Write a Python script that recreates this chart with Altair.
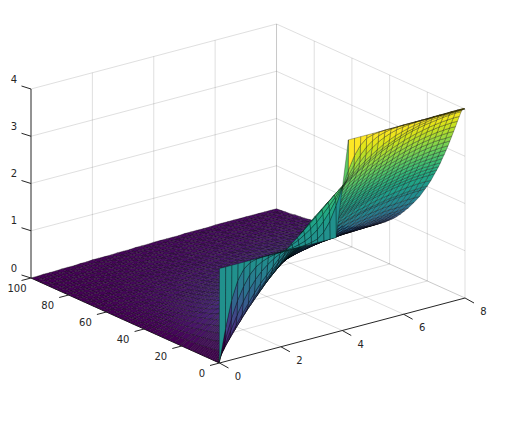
import altair as alt

# Axis ticks and surface heights (z, in hundredths)
x_ticks = [0, 2, 4, 6, 8]
y_ticks = [0, 20, 40, 60, 80, 100]
z_ticks = [0, 1, 2, 3, 4]
x_col = [i / 5 for i in range(41)]
y_row = [0, 0.1, 0.25, 0.5, 1, 1.5, 2, 3, 4, 5, 6, 7, 8, 9, 10, 11, 12, 13, 14, 15, 16, 18, 20, 21, 24, 27, 30, 32, 34, 36, 38, 40, 42, 44, 46, 48, 50, 52, 55, 57, 60, 62, 65, 67, 70, 72, 75, 77, 80, 82, 85, 87, 90, 92, 95, 97, 100]
z_table = [
 [200]*20 + [300] + [400]*20,
 [0,69,126,164,185,195,199,200,200,200,200,200,200,200,201,203,207,218,237,266,300,335,363,382,393,397,399] + [400]*14,
 [0,45,86,121,148,169,182,190,195,198,200,201,202,205,209,216,226,240,257,278,300,322,343,360,374,384,391,395,398,399,400] + [400]*10,
 [0,32,62,90,115,137,155,169,180,189,196,201,208,214,222,231,242,255,269,284,300,316,331,345,358,368,377,384,389,393,395,397,398,399,399,400,400,400,400,400,400],
 [0,23,46,68,88,107,126,143,157,171,185,196,208,219,230,241,252,264,276,288,299,311,322,333,343,352,360,368,374,380,384,388,391,393,395,397,398,398,399,399,399],
 [0,20,39,58,77,96,113,130,145,161,175,189,202,215,227,240,252,263,274,285,296,306,316,325,335,343,351,358,364,370,375,380,383,387,389,392,393,394,394,395,395],
 [0,18,36,54,71,89,105,122,138,153,169,183,196,209,223,235,247,258,270,281,291,301,310,320,328,336,343,351,357,363,368,373,377,380,383,385,387,389,390,391,391],
 [0,16,33,49,65,81,97,112,128,143,157,171,185,198,211,224,236,248,259,269,280,289,298,307,315,323,330,337,343,349,354,359,363,367,370,373,375,377,378,379,379],
 [0,15,31,46,61,76,91,106,120,135,149,162,176,189,201,213,225,237,248,258,268,277,287,295,303,311,318,325,331,337,342,347,351,355,358,361,363,365,366,367,367],
 [0,15,29,44,58,72,87,101,114,128,141,154,167,180,192,204,215,226,237,247,257,266,275,283,291,299,306,313,319,324,330,334,338,342,345,348,350,352,353,354,354],
 [0,14,28,42,55,69,83,96,109,122,135,147,160,172,183,195,206,216,227,237,246,255,264,272,280,287,294,301,307,312,317,322,326,330,333,336,338,340,341,342,342],
 [0,13,27,40,53,66,79,92,104,117,129,141,153,164,176,187,197,208,217,227,236,245,254,262,269,276,283,290,295,301,306,310,314,318,321,324,326,328,329,329,330],
 [0,13,25,38,51,63,76,88,100,112,124,135,146,158,168,179,189,199,209,218,227,235,244,251,259,266,272,279,284,290,294,299,303,306,309,312,314,316,317,318,318],
 [0,12,24,36,49,61,72,84,96,107,119,130,141,151,162,172,182,191,200,209,218,226,234,242,249,256,262,268,274,279,283,288,292,295,298,300,302,304,305,306,306],
 [0,12,23,35,47,58,70,81,92,103,114,125,135,145,155,165,175,184,193,201,210,218,225,232,239,246,252,258,263,268,273,277,281,284,287,289,291,293,294,295,295],
 [0,11,22,34,45,56,67,78,88,99,109,120,130,140,149,159,168,177,185,193,201,209,217,224,230,237,243,248,253,258,263,267,271,274,277,279,281,282,283,284,284],
 [0,11,21,32,43,53,64,74,85,95,105,115,124,134,143,152,161,169,178,186,194,201,208,215,221,228,233,239,244,249,253,257,260,263,266,268,270,272,273,273,274],
 [0,10,21,31,41,51,61,71,81,91,101,110,120,129,138,146,155,163,171,179,186,193,200,207,213,219,224,230,235,239,243,247,250,253,256,258,260,262,262,263,263],
 [0,10,20,30,40,49,59,69,78,88,97,106,115,124,132,141,149,157,164,172,179,186,193,199,205,211,216,221,226,230,234,238,241,244,246,248,250,252,253,253,253],
 [0,10,19,29,38,48,57,66,75,84,93,102,111,119,127,136,143,151,158,166,172,179,185,192,197,203,208,213,217,221,225,229,232,235,237,239,241,242,243,244,244],
 [0,9,18,28,37,46,55,64,72,81,90,98,107,115,123,130,138,145,152,159,166,172,178,184,190,195,200,205,209,213,217,220,223,226,228,230,232,233,234,234,235],
 [0,9,17,26,34,42,51,59,67,75,83,91,99,106,113,121,128,134,141,147,154,159,165,171,176,181,185,190,194,197,201,204,207,209,211,213,215,216,217,217,217],
 [0,8,16,24,31,39,47,55,62,70,77,84,91,98,105,112,118,125,131,137,142,148,153,158,163,167,171,175,179,183,186,189,191,194,196,197,199,200,200,201,201],
 [0,8,15,23,30,38,45,53,60,67,74,81,88,95,101,108,114,120,126,131,137,142,147,152,157,161,165,169,172,176,179,182,184,186,188,190,191,192,193,193,194],
 [0,7,14,20,27,34,40,47,53,60,66,72,78,84,90,96,101,107,112,117,122,127,131,135,139,143,147,150,154,157,159,162,164,166,168,169,170,171,172,172,172],
 [0,6,12,18,24,30,36,42,47,53,59,64,70,75,80,85,90,95,100,104,109,113,117,121,124,128,131,134,137,139,142,144,146,148,149,151,152,152,153,153,154],
 [0,5,11,16,21,27,32,37,42,47,52,57,62,67,71,76,80,85,89,93,97,100,104,107,111,114,117,119,122,124,126,128,130,132,133,134,135,136,136,137,137],
 [0,5,10,15,20,25,30,34,39,44,48,53,57,62,66,70,74,78,82,86,90,93,96,99,102,105,108,110,113,115,117,119,120,122,123,124,125,126,126,126,127],
 [0,5,9,14,18,23,27,32,36,41,45,49,53,57,61,65,69,73,76,80,83,86,89,92,95,97,100,102,104,106,108,110,111,113,114,115,116,116,117,117,117],
 [0,4,9,13,17,21,25,29,34,38,42,45,49,53,57,60,64,67,70,74,77,80,82,85,88,90,93,95,97,99,100,102,103,104,106,106,107,108,108,108,108],
 [0,4,8,12,16,20,23,27,31,35,38,42,46,49,53,56,59,62,65,68,71,74,76,79,81,84,86,88,90,91,93,94,96,97,98,99,99,100,100,100,100],
 [0,4,7,11,15,18,22,25,29,32,36,39,42,46,49,52,55,58,61,63,66,68,71,73,75,78,79,81,83,85,86,87,89,90,91,91,92,92,93,93,93],
 [0,3,7,10,13,17,20,23,27,30,33,36,39,42,45,48,51,53,56,58,61,63,65,68,70,72,73,75,77,78,80,81,82,83,84,84,85,86,86,86,86],
 [0,3,6,9,12,16,19,22,25,28,31,33,36,39,42,44,47,49,52,54,56,59,61,63,64,66,68,70,71,72,74,75,76,77,78,78,79,79,80,80,80],
 [0,3,6,9,12,14,17,20,23,26,28,31,34,36,39,41,43,46,48,50,52,54,56,58,60,61,63,64,66,67,68,69,70,71,72,72,73,73,74,74,74],
 [0,3,5,8,11,13,16,19,21,24,26,29,31,33,36,38,40,42,44,46,48,50,52,54,55,57,58,60,61,62,63,64,65,66,67,67,68,68,68,68,68],
 [0,2,5,7,10,12,15,17,20,22,24,26,29,31,33,35,37,39,41,43,45,46,48,50,51,53,54,55,56,57,58,59,60,61,61,62,62,63,63,63,63],
 [0,2,5,7,9,11,14,16,18,20,22,24,27,29,31,32,34,36,38,40,41,43,44,46,47,49,50,51,52,53,54,55,56,56,57,57,58,58,58,58,58],
 [0,2,4,6,8,10,12,14,16,18,20,22,24,26,27,29,31,32,34,35,37,38,40,41,42,43,45,46,47,47,48,49,50,50,51,51,52,52,52,52,52],
 [0,2,4,6,8,9,11,13,15,17,18,20,22,24,25,27,28,30,31,33,34,35,37,38,39,40,41,42,43,44,45,45,46,46,47,47,48,48,48,48,48],
 [0,2,3,5,7,8,10,12,13,15,16,18,20,21,22,24,25,27,28,29,30,32,33,34,35,36,37,38,38,39,40,40,41,41,42,42,42,43,43,43,43],
 [0,2,3,5,6,8,9,11,12,14,15,17,18,19,21,22,23,25,26,27,28,29,30,31,32,33,34,35,35,36,37,37,38,38,38,39,39,39,40,40,40],
 [0,1,3,4,6,7,8,10,11,12,14,15,16,17,19,20,21,22,23,24,25,26,27,28,29,30,30,31,32,32,33,33,34,34,35,35,35,35,35,35,36],
 [0,1,3,4,5,6,8,9,10,11,13,14,15,16,17,18,19,20,21,22,23,24,25,26,27,27,28,29,29,30,30,31,31,32,32,32,32,33,33,33,33],
 [0,1,2,3,5,6,7,8,9,10,11,12,13,14,15,16,17,18,19,20,21,22,22,23,24,24,25,26,26,27,27,27,28,28,28,29,29,29,29,29,29],
 [0,1,2,3,4,5,6,7,8,9,10,11,12,13,14,15,16,17,17,18,19,20,20,21,22,22,23,23,24,24,25,25,25,26,26,26,26,27,27,27,27],
 [0,1,2,3,4,5,6,7,7,8,9,10,11,12,13,13,14,15,16,16,17,18,18,19,19,20,21,21,21,22,22,23,23,23,23,24,24,24,24,24,24],
 [0,1,2,3,3,4,5,6,7,8,9,9,10,11,12,12,13,14,14,15,16,16,17,18,18,19,19,19,20,20,21,21,21,21,22,22,22,22,22,22,22],
 [0,1,2,2,3,4,5,5,6,7,8,8,9,10,10,11,12,12,13,14,14,15,15,16,16,17,17,17,18,18,18,19,19,19,19,20,20,20,20,20,20],
 [0,1,1,2,3,4,4,5,6,6,7,8,8,9,10,10,11,11,12,12,13,13,14,14,15,15,16,16,16,17,17,17,17,18,18,18,18,18,18,18,18],
 [0,1,1,2,3,3,4,4,5,6,6,7,7,8,9,9,10,10,11,11,12,12,12,13,13,14,14,14,15,15,15,15,16,16,16,16,16,16,16,16,16],
 [0,1,1,2,2,3,4,4,5,5,6,6,7,7,8,8,9,9,10,10,11,11,11,12,12,13,13,13,13,14,14,14,14,14,15,15,15,15,15,15,15],
 [0,1,1,2,2,3,3,4,4,5,5,6,6,7,7,8,8,8,9,9,10,10,10,11,11,11,12,12,12,12,12,13,13,13,13,13,13,13,13,13,14],
 [0,0,1,1,2,2,3,3,4,4,5,5,6,6,7,7,7,8,8,8,9,9,10,10,10,10,11,11,11,11,12,12,12,12,12,12,12,12,12,12,12],
 [0,0,1,1,2,2,3,3,3,4,4,5,5,5,6,6,7,7,7,8,8,8,9,9,9,9,10,10,10,10,10,11,11,11,11,11,11,11,11,11,11],
 [0,0,1,1,2,2,2,3,3,4,4,4,5,5,5,6,6,6,7,7,7,8,8,8,8,9,9,9,9,9,10,10,10,10,10,10,10,10,10,10,10],
 [0,0,1,1,1,2,2,2,3,3,4,4,4,4,5,5,5,6,6,6,7,7,7,7,7,8,8,8,8,8,9,9,9,9,9,9,9,9,9,9,9],
]

W, H = 490, 405
MARGIN = 8


def proj(x, y, z):
    """Oblique projection of the 3D axes onto the page."""
    return (219.5 + 30.69 * x - 1.885 * y - MARGIN,
            363 - 8.125 * x - 0.85 * y - 47.25 * z - MARGIN)


def seg(a, b):
    p, q = proj(*a), proj(*b)
    return {"a": p[0], "b": p[1], "c": q[0], "d": q[1]}


# Surface cells, far to near
cells = []
for j in range(len(y_row) - 2, -1, -1):
    for i in range(len(x_col) - 2, -1, -1):
        corners = [(i, j), (i + 1, j), (i + 1, j + 1), (i, j + 1), (i, j)]
        ring = [list(proj(x_col[m], y_row[n], z_table[n][m] / 100)) for m, n in corners]
        cells.append({"type": "Feature",
                      "geometry": {"type": "Polygon", "coordinates": [ring]},
                      "properties": {"z": z_table[j][i] / 100}})

# Grid, box and axis segments
grid = []
for z in z_ticks[1:]:
    grid.append(seg((0, 100, z), (8, 100, z)))
    grid.append(seg((8, 100, z), (8, 0, z)))
for x in x_ticks[1:4]:
    grid.append(seg((x, 100, 0), (x, 100, 4)))
    grid.append(seg((x, 100, 0), (x, 0, 0)))
for y in y_ticks[1:5]:
    grid.append(seg((8, y, 0), (8, y, 4)))
    grid.append(seg((8, y, 0), (0, y, 0)))
grid.append(seg((8, 0, 0), (8, 0, 4)))
box = [seg((8, 100, 0), (8, 100, 4)), seg((8, 0, 0), (8, 100, 0)), seg((0, 100, 0), (8, 100, 0))]

axes = [seg((0, 100, 0), (0, 100, 4)), seg((0, 0, 0), (8, 0, 0)), seg((0, 0, 0), (0, 100, 0))]
ticks = []
labels = []
for x in x_ticks:
    p = proj(x, 0, 0)
    ticks.append({"a": p[0], "b": p[1], "c": p[0] + 9, "d": p[1] + 5})
    labels.append({"a": p[0] + 18.5, "b": p[1] + 14, "t": str(x)})
for y in y_ticks:
    p = proj(0, y, 0)
    ticks.append({"a": p[0], "b": p[1], "c": p[0] - 9.5, "d": p[1] + 2.5})
    dx = -17.5 if y == 0 else (-14 if y == 100 else -21)
    labels.append({"a": p[0] + dx, "b": p[1] + 10.5, "t": str(y)})
for z in z_ticks:
    p = proj(0, 100, z)
    ticks.append({"a": p[0], "b": p[1], "c": p[0] - 9.5, "d": p[1] - 3})
    labels.append({"a": p[0] - 17, "b": p[1] - 9.5, "t": str(z)})

X = alt.X("a:Q", scale=alt.Scale(domain=[0, W], nice=False), axis=None)
Y = alt.Y("b:Q", scale=alt.Scale(domain=[H, 0], nice=False), axis=None)


def rules(rows, **kw):
    return alt.Chart(alt.Data(values=rows)).mark_rule(**kw).encode(
        x=X, y=Y, x2=alt.X2("c:Q"), y2=alt.Y2("d:Q"))


surface = alt.Chart(alt.Data(values=cells)).mark_geoshape(
    stroke="#000000", strokeWidth=0.35, strokeOpacity=0.85
).encode(
    color=alt.Color("properties.z:Q", scale=alt.Scale(scheme="viridis", domain=[0, 4]), legend=None)
).project(type="identity", scale=1, translate=[0, 0])

text = alt.Chart(alt.Data(values=labels)).mark_text(
    font="DejaVu Sans", fontSize=10, color="#262626", align="center", baseline="middle"
).encode(x=X, y=Y, text="t:N")

chart = alt.layer(
    rules(grid, color="#262626", opacity=0.15, strokeWidth=1),
    rules(box, color="#262626", opacity=0.25, strokeWidth=1),
    rules(axes, color="#262626", strokeWidth=1),
    surface,
    rules(ticks, color="#262626", strokeWidth=1),
    text,
).properties(width=W, height=H, padding=0, autosize=alt.AutoSizeParams(type="none"),
             background="#ffffff").configure_view(stroke=None)

chart.save("out.html", embed_options={"renderer": "svg", "actions": False})
